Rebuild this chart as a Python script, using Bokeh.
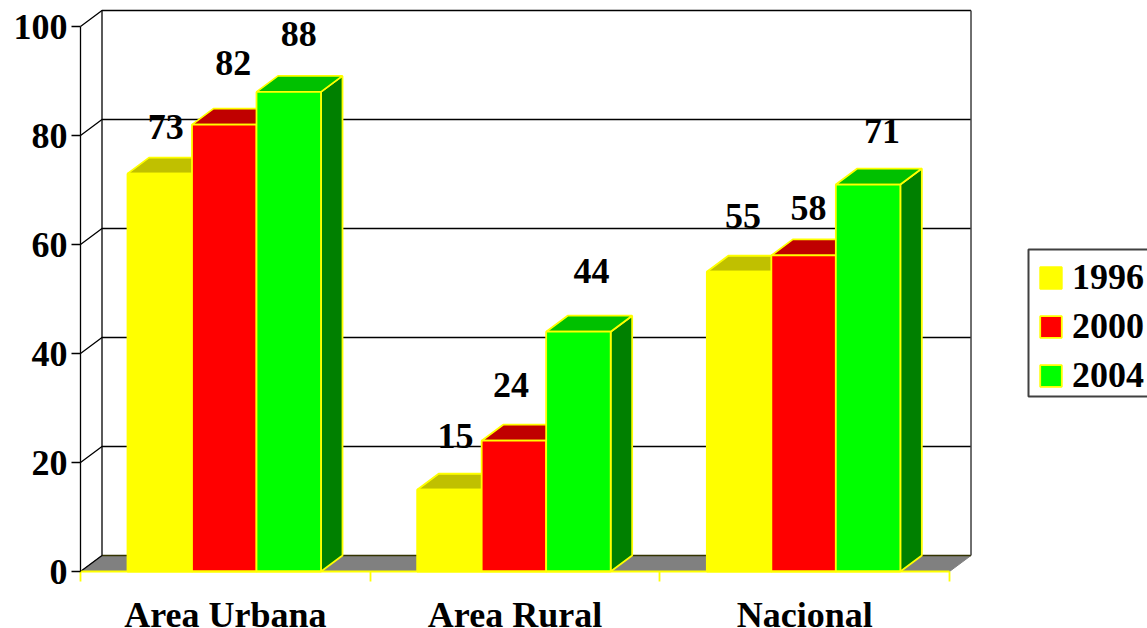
from bokeh.plotting import figure
from bokeh.models import LinearAxis, FixedTicker, Legend, LegendItem, ColumnDataSource, Range1d
from bokeh.core.properties import value
from bokeh.embed import file_html
from bokeh.resources import INLINE

categories = ["Area Urbana", "Area Rural", "Nacional"]
years = ["1996", "2000", "2004"]
v1996 = [73, 15, 55]
v2000 = [82, 24, 58]
v2004 = [88, 44, 71]
y_ticks = [0, 20, 40, 60, 80, 100]

W, H = 1147, 628
PX_X, PX_Y = 80, 571
CAT_PX, VAL_PX = 289.67, 5.45  # pixels per category / per value unit
DX, DY = 21.5 / CAT_PX, 16 / VAL_PX
BAR_OFF, BAR_W = 47 / CAT_PX, 64.5 / CAT_PX
FONT = "Liberation Serif"
EDGE = "#ffff00"
EDGE_W = 1.8

p = figure(width=W, height=H, output_backend="svg", toolbar_location=None,
           x_range=Range1d(-PX_X / CAT_PX, (W - PX_X) / CAT_PX),
           y_range=Range1d(-(H - PX_Y) / VAL_PX, PX_Y / VAL_PX),
           x_axis_location=None, y_axis_location=None,
           min_border_left=0, min_border_right=0, min_border_top=0, min_border_bottom=0)
p.grid.visible = False
p.outline_line_color = None

n = len(categories)
# floor
p.patch([0, n, n + DX, DX], [0, 0, DY, DY], fill_color="#808080", line_color="#808080")
p.line([DX, n + DX], [DY, DY], line_color="#333300", line_width=1.5)
# back wall
for t in y_ticks[1:]:
    p.line([0, DX, n + DX], [t, t + DY, t + DY], line_color="black", line_width=1.3)
p.line([0, DX], [0, DY], line_color="black", line_width=1.3)
p.line([DX, DX], [DY, 100 + DY], line_color="black", line_width=1.3)
p.line([n + DX, n + DX], [DY, 100 + DY], line_color="#404040", line_width=1.5)

# axes
yax = LinearAxis(ticker=FixedTicker(ticks=y_ticks), bounds=(0, 100), fixed_location=0)
yax.axis_line_color = "black"; yax.axis_line_width = 1.3
yax.major_tick_line_color = "black"; yax.major_tick_line_width = 1.3
yax.major_tick_out = 9; yax.major_tick_in = 0
yax.minor_tick_out = 0; yax.minor_tick_in = 0
yax.major_label_standoff = 4
yax.major_label_text_font = FONT
yax.major_label_text_font_style = "bold"
yax.major_label_text_font_size = "36px"
yax.major_label_text_color = "black"
p.add_layout(yax, "left")

xax = LinearAxis(ticker=FixedTicker(ticks=[i + 0.5 for i in range(n)], minor_ticks=list(range(n + 1))),
                 bounds=(0, n), fixed_location=0)
xax.major_label_overrides = {i + 0.5: c for i, c in enumerate(categories)}
xax.axis_line_color = EDGE; xax.axis_line_width = EDGE_W
xax.major_tick_out = 0; xax.major_tick_in = 0
xax.minor_tick_out = 10; xax.minor_tick_in = 0
xax.minor_tick_line_color = EDGE; xax.minor_tick_line_width = EDGE_W
xax.major_label_standoff = 13
xax.major_label_text_font = FONT
xax.major_label_text_font_style = "bold"
xax.major_label_text_font_size = "36px"
xax.major_label_text_color = "black"
p.add_layout(xax, "below")

series = [
    (v1996, "#ffff00", "#c0c000", "#808000"),
    (v2000, "#ff0000", "#c00000", "#800000"),
    (v2004, "#00ff00", "#00c000", "#008000"),
]
items = []
for s, (vals, front, top, side) in enumerate(series):
    lefts = [i + BAR_OFF + s * BAR_W for i in range(n)]
    rights = [l + BAR_W for l in lefts]
    p.patches([[r, r + DX, r + DX, r] for r in rights],
              [[0, DY, v + DY, v] for v in vals],
              fill_color=side, line_color=EDGE, line_width=EDGE_W)
    p.patches([[l, l + DX, r + DX, r] for l, r in zip(lefts, rights)],
              [[v, v + DY, v + DY, v] for v in vals],
              fill_color=top, line_color=EDGE, line_width=EDGE_W)
    q = p.quad(left=lefts, right=rights, bottom=0, top=vals,
               fill_color=front, line_color=EDGE, line_width=EDGE_W)
    items.append(LegendItem(label=years[s], renderers=[q]))

# value labels, nudged in pixels from their bars' centres
nudge_x = [[6, 9, 10], [6, -3, 13], [4, 5, 14]]
nudge_y = [[47, 62, 58], [54, 56, 61], [56, 47, 54]]
lx, ly, lt, ox, oy = [], [], [], [], []
for s, (vals, *_ ) in enumerate(series):
    for i, v in enumerate(vals):
        lx.append(i + BAR_OFF + (s + 0.5) * BAR_W)
        ly.append(v)
        lt.append(str(v))
        ox.append(nudge_x[i][s])
        oy.append(-nudge_y[i][s])
src = ColumnDataSource(dict(x=lx, y=ly, t=lt, ox=ox, oy=oy))
p.text(x="x", y="y", text="t", x_offset="ox", y_offset="oy", source=src,
       text_font=value(FONT), text_font_style="bold", text_font_size="36px",
       text_color="black", text_align="center", text_baseline="middle")

# legend frame, drawn apart so that the rows can sit as tightly as in the reference
p.quad(left=[(1028 - PX_X) / CAT_PX], right=[(1170 - PX_X) / CAT_PX],
       top=[(PX_Y - 249) / VAL_PX], bottom=[(PX_Y - 396) / VAL_PX],
       fill_color="white", line_color="#404040", line_width=2)

legend = Legend(items=items, location=(1037, H - 396), orientation="vertical")
legend.background_fill_alpha = 0
legend.border_line_color = None
legend.padding = 0; legend.margin = 0
legend.spacing = 7
legend.glyph_width = 27; legend.glyph_height = 27
legend.label_standoff = 8
legend.label_text_font = FONT
legend.label_text_font_style = "bold"
legend.label_text_font_size = "36px"
legend.label_text_color = "black"
p.add_layout(legend, "center")

open("out.html", "w").write(file_html(p, INLINE))
